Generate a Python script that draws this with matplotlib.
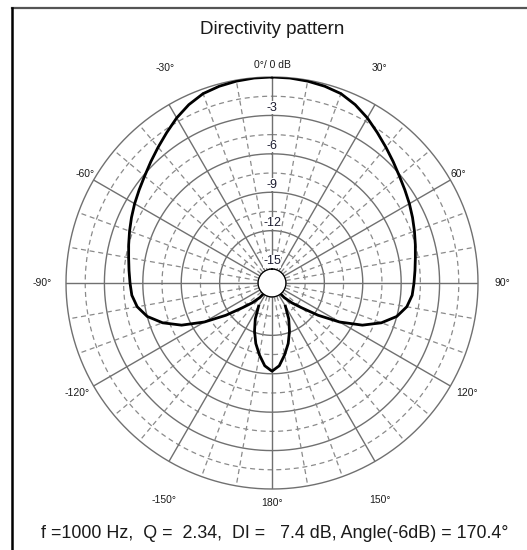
import numpy as np
import matplotlib
matplotlib.use('Agg')
import matplotlib.pyplot as plt
from matplotlib.lines import Line2D

plt.rcParams['font.family'] = ['Liberation Sans', 'DejaVu Sans']

# measured pattern, one half (0..180 deg), mirrored for the other side
angles_deg = [0, 5, 10, 15, 20, 25, 30, 35, 40, 45, 50, 55, 60, 65, 70, 75, 80, 85, 90,
              95, 100, 105, 110, 115, 120, 125, 130, 135, 140, 143, 147, 150, 155, 160,
              165, 170, 175, 180]
level_db = [0.0, -0.02, -0.08, -0.18, -0.35, -0.72, -1.2, -1.75, -2.25, -2.7, -3.1, -3.42,
            -3.7, -3.98, -4.25, -4.5, -4.72, -4.88, -5.0, -5.1, -5.4, -6.0, -7.0, -8.3,
            -10.0, -11.7, -13.1, -13.9, -14.6, -15.2, -16.5, -14.0, -13.0, -12.1, -11.2,
            -10.4, -9.6, -9.2]

ring_db = [0, -3, -6, -9, -12, -15]
ring_labels = ['', '-3', '-6', '-9', '-12', '-15']
minor_ring_db = [-1.5, -4.5, -7.5, -10.5, -13.5]
angle_ticks = [0, 30, 60, 90, 120, 150, 180, -150, -120, -90, -60, -30]
angle_labels = ['0°/ 0 dB', '30°', '60°', '90°', '120°', '150°', '180°',
                '-150°', '-120°', '-90°', '-60°', '-30°']

title = 'Directivity pattern'
footer = 'f =1000 Hz,  Q =  2.34,  DI =   7.4 dB, Angle(-6dB) = 170.4°'

W, H = 527, 550
fig = plt.figure(figsize=(W / 100, H / 100), dpi=100)
fig.patch.set_facecolor('white')

cx, cy, R = 272, 283, 206
origin = -16.09
ax = fig.add_axes([(cx - R) / W, (H - cy - R) / H, 2 * R / W, 2 * R / H],
                  projection='polar')
ax.set_theta_zero_location('N')
ax.set_theta_direction(-1)
ax.set_rlim(-15, 0)
ax.set_rorigin(origin)
ax.grid(False)
ax.set_xticks([])
ax.set_yticks([])
for sp in ax.spines.values():
    sp.set_visible(False)

grid_c = '#707070'
dash_c = '#8a8a8a'
th = np.linspace(0, 2 * np.pi, 721)
for r in ring_db:
    ax.plot(th, np.full_like(th, r), color=grid_c, lw=1.0, clip_on=False, zorder=1)
for r in minor_ring_db:
    ax.plot(th, np.full_like(th, r), color=dash_c, lw=0.9, ls=(0, (4, 3)), zorder=1)
for a in range(0, 360, 10):
    t = np.deg2rad(a)
    if a % 30 == 0:
        ax.plot([t, t], [-15, 0], color=grid_c, lw=1.0, zorder=1)
    else:
        ax.plot([t, t], [-15, 0], color=dash_c, lw=0.9, ls=(0, (4, 3)), zorder=1)

# full pattern: right half then mirrored left half
ang = np.array(angles_deg, dtype=float)
lev = np.array(level_db)
theta = np.deg2rad(np.concatenate([ang, 360 - ang[::-1]]))
rad = np.concatenate([lev, lev[::-1]])
ax.plot(theta, rad, color='black', lw=2.0, zorder=3)

# ring labels along the 0 deg axis
for r, lab in zip(ring_db, ring_labels):
    if lab:
        ax.text(0, r + 0.6, lab, ha='center', va='center', fontsize=9,
                color='#1c1c30', zorder=4,
                bbox=dict(facecolor='white', edgecolor='none', pad=0.2))

# angle labels around the outside: (angle drawn at, radius in px)
px_per_db = R / -origin
label_pos = {0: (0, 218), 30: (26.5, 240), 60: (59.8, 216), 90: (90, 230),
             120: (119.5, 224), 150: (153.5, 242), 180: (180, 220)}
for a, lab in zip(angle_ticks, angle_labels):
    pa, rpx = label_pos[abs(a)]
    pa = pa if a >= 0 else -pa
    ax.text(np.deg2rad(pa), origin + rpx / px_per_db, lab, ha='center',
            va='center', fontsize=7.5, color='#1c1c1c')

fig.text(272.5 / W, 1 - 30 / H, title, ha='center', va='center', fontsize=13.5,
         color='#1a1a1a')
fig.text(275 / W, 1 - 533 / H, footer, ha='center', va='center', fontsize=12.9,
         color='#1a1a1a')

# frame edges
fig.add_artist(Line2D([12 / W, 1], [1 - 8 / H, 1 - 8 / H], color='#555555', lw=1.6))
fig.add_artist(Line2D([12 / W, 12 / W], [0, 1 - 8 / H], color='black', lw=1.8))

fig.savefig('out.png', dpi=100, facecolor='white')
